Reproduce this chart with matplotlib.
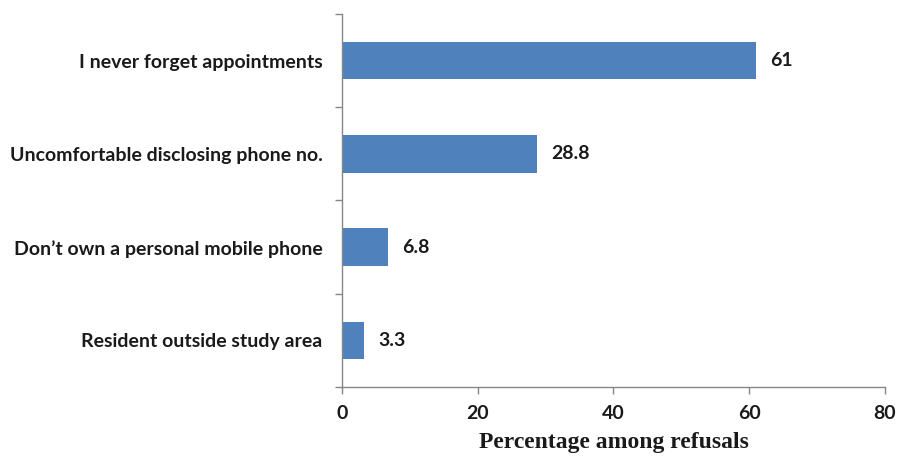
import matplotlib
matplotlib.use("Agg")
import matplotlib.pyplot as plt
import numpy as np

categories = ["I never forget appointments", "Uncomfortable disclosing phone no.",
              "Don\u2019t own a personal mobile phone", "Resident outside study area"]
values = [61, 28.8, 6.8, 3.3]
value_labels = ["61", "28.8", "6.8", "3.3"]
xticks = [0, 20, 40, 60, 80]

fig = plt.figure(figsize=(8.99, 4.57), dpi=100)
ax = fig.add_axes([0.3804, 0.1532, 0.9844 - 0.3804, 0.9694 - 0.1532])

y = np.arange(len(categories))[::-1]
ax.barh(y, values, height=0.4, color="#4F81BD")
ax.set_ylim(-0.5, len(categories) - 0.5)
ax.set_xlim(0, 80)

lab_font = dict(family=["Lato", "DejaVu Sans"], weight="bold", size=14)
for yi, v, s in zip(y, values, value_labels):
    ax.annotate(s, (v, yi), xytext=(10, 0), textcoords="offset points",
                va="center", ha="left", color="#1a1a1a", **lab_font)

ax.set_yticks(y)
ax.set_yticklabels(categories, **lab_font)
ax.tick_params(axis="y", which="major", length=0, pad=14, labelcolor="#1a1a1a")
ax.set_yticks(np.arange(-0.5, len(categories)), minor=True)
ax.tick_params(axis="y", which="minor", length=5, color="#868686", width=1)

ax.set_xticks(xticks)
ax.set_xticklabels([str(t) for t in xticks], **lab_font)
ax.tick_params(axis="x", length=5, color="#868686", width=1, pad=8, labelcolor="#1a1a1a")

for side in ["top", "right"]:
    ax.spines[side].set_visible(False)
for side in ["left", "bottom"]:
    ax.spines[side].set_color("#868686")
    ax.spines[side].set_linewidth(1)

ax.set_xlabel("Percentage among refusals", family=["Liberation Serif"], weight="bold",
              size=17, labelpad=7, color="#1a1a1a")

fig.savefig("out.png", dpi=100)
